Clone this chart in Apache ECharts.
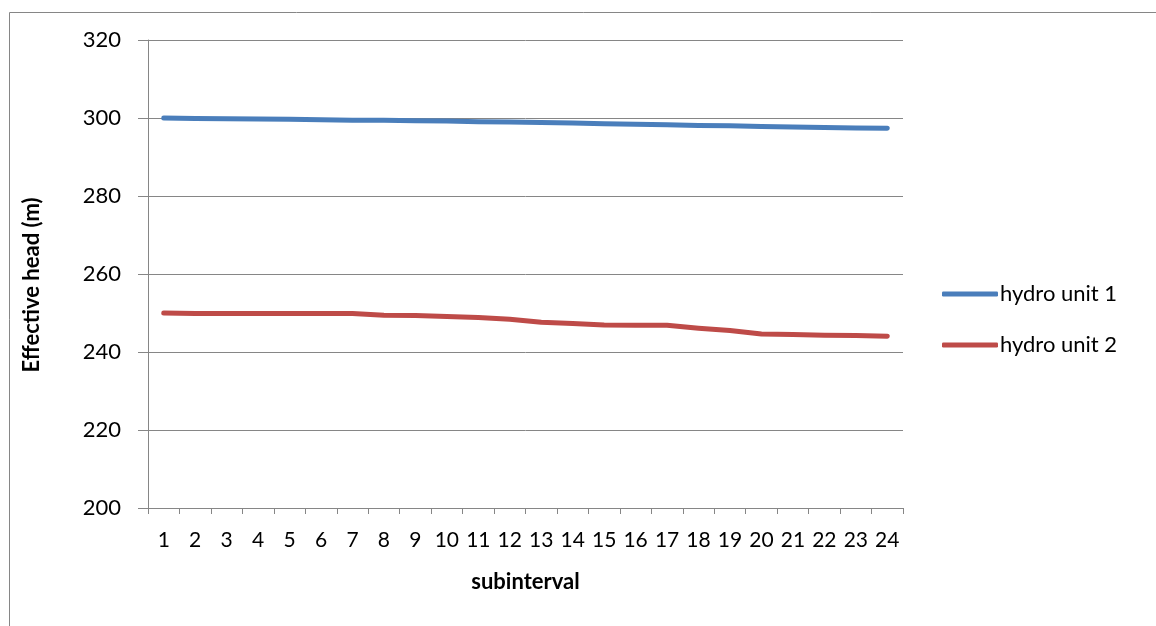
<!DOCTYPE html>
<html>
<head>
<meta charset="utf-8">
<style>
  html, body { margin: 0; padding: 0; background: #fff; }
  #chart { width: 1156px; height: 626px; }
</style>
<script src="https://cdn.jsdelivr.net/npm/echarts@6/dist/echarts.min.js"></script>
</head>
<body>
<div id="chart"></div>
<script>
// Subinterval labels along the horizontal axis
const subintervals = ['1','2','3','4','5','6','7','8','9','10','11','12','13','14','15','16','17','18','19','20','21','22','23','24'];

// Effective head (m) per subinterval
const hydroUnit1 = [300.0, 299.9, 299.8, 299.75, 299.65, 299.55, 299.45, 299.4, 299.3, 299.2, 299.05, 298.95, 298.85, 298.7, 298.55, 298.4, 298.25, 298.1, 298.0, 297.85, 297.7, 297.55, 297.45, 297.35];
const hydroUnit2 = [250.0, 249.9, 249.85, 249.85, 249.85, 249.85, 249.85, 249.4, 249.35, 249.1, 248.85, 248.4, 247.6, 247.3, 246.9, 246.85, 246.85, 246.1, 245.5, 244.6, 244.5, 244.3, 244.25, 244.05];

const seriesNames = ['hydro unit 1', 'hydro unit 2'];
const yTicks = { min: 200, max: 320, step: 20 };

const FONT = 'Lato, "Liberation Sans", sans-serif';
const GRID_GRAY = '#868686';

const chart = echarts.init(document.getElementById('chart'), null, { renderer: 'canvas' });

chart.setOption({
  backgroundColor: '#ffffff',
  animation: false,
  graphic: [{
    type: 'rect',
    left: 7, top: 10,
    shape: { width: 1300, height: 800 },
    style: { fill: 'none', stroke: GRID_GRAY, lineWidth: 1 },
    silent: true
  }],
  grid: { left: 148, right: 253, top: 40, bottom: 118 },
  legend: {
    orient: 'vertical',
    left: 942,
    top: 283,
    padding: 0,
    itemGap: 29,
    itemWidth: 56,
    itemHeight: 5,
    icon: 'roundRect',
    textStyle: { fontFamily: FONT, fontSize: 22, color: '#000', padding: [0, 0, 0, -3] },
    data: seriesNames
  },
  xAxis: {
    type: 'category',
    data: subintervals,
    boundaryGap: true,
    name: 'subinterval',
    nameLocation: 'middle',
    nameGap: 63,
    nameTextStyle: { fontFamily: FONT, fontSize: 22, fontWeight: 'bold', color: '#000' },
    axisLine: { lineStyle: { color: GRID_GRAY, width: 1 } },
    axisTick: { show: true, alignWithLabel: false, length: 6, lineStyle: { color: GRID_GRAY } },
    axisLabel: { fontFamily: FONT, fontSize: 21, color: '#000', margin: 22, interval: 0 },
    splitLine: { show: false }
  },
  yAxis: {
    type: 'value',
    min: yTicks.min,
    max: yTicks.max,
    interval: yTicks.step,
    name: 'Effective head (m)',
    nameLocation: 'middle',
    nameGap: 105,
    nameTextStyle: { fontFamily: FONT, fontSize: 22, fontWeight: 'bold', color: '#000', padding: [0, 22, 0, 0] },
    axisLine: { show: true, lineStyle: { color: GRID_GRAY, width: 1 } },
    axisTick: { show: true, inside: false, length: 10, lineStyle: { color: GRID_GRAY } },
    axisLabel: { fontFamily: FONT, fontSize: 22, color: '#000', margin: 27 },
    splitLine: { show: true, lineStyle: { color: GRID_GRAY, width: 1 } }
  },
  series: [
    {
      name: seriesNames[0],
      type: 'line',
      data: hydroUnit1,
      symbol: 'none',
      lineStyle: { color: '#4a7ebb', width: 5, cap: 'round', join: 'round' },
      itemStyle: { color: '#4a7ebb' }
    },
    {
      name: seriesNames[1],
      type: 'line',
      data: hydroUnit2,
      symbol: 'none',
      lineStyle: { color: '#be4b48', width: 5, cap: 'round', join: 'round' },
      itemStyle: { color: '#be4b48' }
    }
  ]
});
</script>
</body>
</html>
